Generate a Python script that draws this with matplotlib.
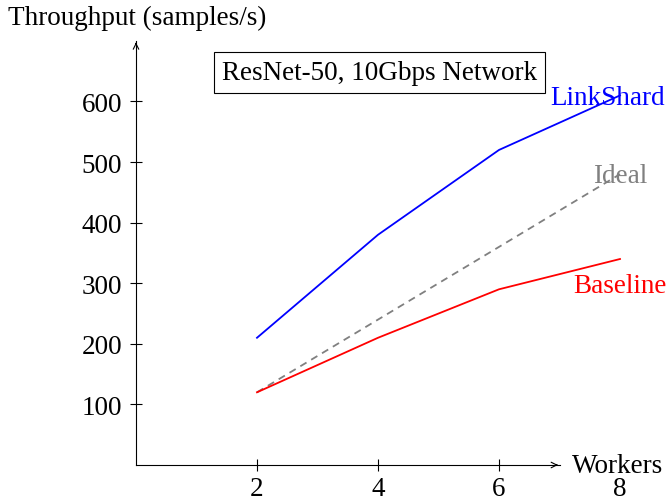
import matplotlib.pyplot as plt

plt.rcParams['font.family'] = ['Liberation Serif', 'DejaVu Serif']

# data
workers = [2, 4, 6, 8]
linkshard = [210, 380, 520, 610]
baseline = [120, 210, 290, 340]
ideal = [120, 240, 360, 480]

fs = 19.5

fig = plt.figure(figsize=(6.67, 5.02), dpi=100)
ax = fig.add_axes([0.2039, 0.0717, 0.771, 0.869])
ax.set_xlim(0, 8.5)
ax.set_ylim(0, 720)

ax.plot(workers, linkshard, color='blue', lw=1.3)
ax.plot(workers, ideal, color='gray', lw=1.3, ls=(0, (4, 3)))
ax.plot(workers, baseline, color='red', lw=1.3)

# curve labels
ax.text(7.79, 607, 'LinkShard', color='blue', fontsize=fs, ha='center', va='center')
ax.text(8.0, 477, 'Ideal', color='gray', fontsize=fs, ha='center', va='center')
ax.text(8.0, 297, 'Baseline', color='red', fontsize=fs, ha='center', va='center')

# title box
ax.text(4.02, 648, 'ResNet-50, 10Gbps Network', fontsize=fs, ha='center', va='center',
        bbox=dict(boxstyle='square,pad=0.3', fc='white', ec='black', lw=0.8))

# axes with arrows
for s in ['top', 'right']:
    ax.spines[s].set_visible(False)
ax.spines['left'].set_bounds(0, 700)
ax.spines['bottom'].set_bounds(0, 7)
ax.spines['left'].set_linewidth(0.8)
ax.spines['bottom'].set_linewidth(0.8)
ax.annotate('', xy=(0, 702), xytext=(0, 690),
            arrowprops=dict(arrowstyle='->', lw=0.8, color='black'), annotation_clip=False)
ax.annotate('', xy=(7.02, 0), xytext=(6.9, 0),
            arrowprops=dict(arrowstyle='->', lw=0.8, color='black'), annotation_clip=False)

ax.set_xticks(workers)
ax.set_yticks([100, 200, 300, 400, 500, 600])
ax.tick_params(direction='inout', length=8, width=0.8, labelsize=fs)
ax.tick_params(axis='y', pad=6)
ax.tick_params(axis='x', pad=4)

ax.text(7.2, 0, 'Workers', fontsize=fs, ha='left', va='center')
fig.text(0.012, 0.963, 'Throughput (samples/s)', fontsize=fs, ha='left', va='center')

fig.savefig('out.png', dpi=100)
